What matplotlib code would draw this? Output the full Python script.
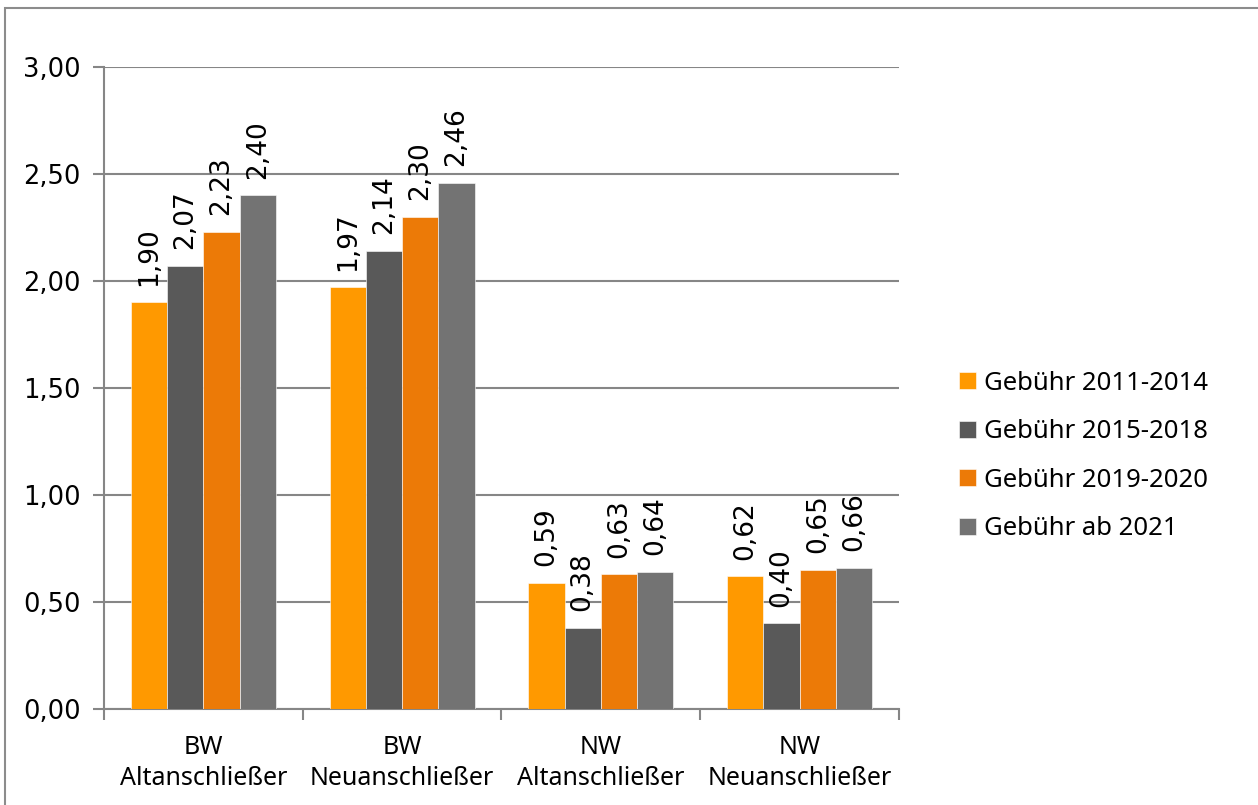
import matplotlib.pyplot as plt
import numpy as np
from matplotlib.patches import Rectangle

categories = ["BW\nAltanschließer", "BW\nNeuanschließer", "NW\nAltanschließer", "NW\nNeuanschließer"]
series_names = ["Gebühr 2011-2014", "Gebühr 2015-2018", "Gebühr 2019-2020", "Gebühr ab 2021"]
fee_2011_2014 = [1.90, 1.97, 0.59, 0.62]
fee_2015_2018 = [2.07, 2.14, 0.38, 0.40]
fee_2019_2020 = [2.23, 2.30, 0.63, 0.65]
fee_ab_2021 = [2.40, 2.46, 0.64, 0.66]
series_values = [fee_2011_2014, fee_2015_2018, fee_2019_2020, fee_ab_2021]
colors = ["#FF9900", "#595959", "#EC7A07", "#737373"]
y_ticks = [0.0, 0.5, 1.0, 1.5, 2.0, 2.5, 3.0]

W, H = 1258, 805
fig = plt.figure(figsize=(W / 100, H / 100), dpi=100)
ax = fig.add_axes([104 / W, 1 - 709 / H, (899 - 104) / W, (709 - 67) / H])

# outer chart frame
fig.patches.append(Rectangle((5 / W, -0.05), 1.1, 1 - 8 / H + 0.05, transform=fig.transFigure,
                             fill=False, edgecolor="#8c8c8c", linewidth=1.5))

grid_color = "#868686"
n = len(series_values)
x = np.arange(len(categories))
bar_w = 0.73 / n
for i, (name, values) in enumerate(zip(series_names, series_values)):
    pos = x - 0.365 + bar_w * (i + 0.5)
    ax.bar(pos, values, width=bar_w, color=colors[i], label=name, zorder=3,
           edgecolor="white", linewidth=0.4)
    for xp, v in zip(pos, values):
        ax.annotate("{:.2f}".format(v).replace(".", ","), (xp, v), xytext=(0, 12),
                    textcoords="offset points", rotation=90, ha="center", va="bottom",
                    fontsize=19, family="DejaVu Sans", color="black")

ax.set_xlim(-0.5, len(categories) - 0.5)
ax.set_ylim(0, 3.0)
ax.set_yticks(y_ticks)
ax.set_yticklabels(["{:.2f}".format(t).replace(".", ",") for t in y_ticks], fontsize=18.5,
                   family="DejaVu Sans")
ax.yaxis.grid(True, color=grid_color, linewidth=1.5, zorder=0)
ax.set_axisbelow(True)

ax.set_xticks(x)
ax.set_xticklabels(categories, fontsize=18, family="Noto Sans", linespacing=1.3)
ax.set_xticks(np.arange(len(categories) + 1) - 0.5, minor=True)
ax.tick_params(axis="x", which="major", length=0, pad=19)
ax.tick_params(axis="x", which="minor", length=8, width=1.5, color=grid_color)
ax.tick_params(axis="y", length=8, width=1.5, color=grid_color, pad=9)

for side in ["top", "right"]:
    ax.spines[side].set_visible(False)
for side in ["left", "bottom"]:
    ax.spines[side].set_color(grid_color)
    ax.spines[side].set_linewidth(1.5)

fig.legend(loc="center left", bbox_to_anchor=(936 / W, 1 - 456 / H), frameon=False,
           prop={"family": "Noto Sans", "size": 18.5}, handlelength=0.65, handleheight=0.65,
           handletextpad=0.3, labelspacing=0.92)

fig.savefig("out.png", dpi=100)
